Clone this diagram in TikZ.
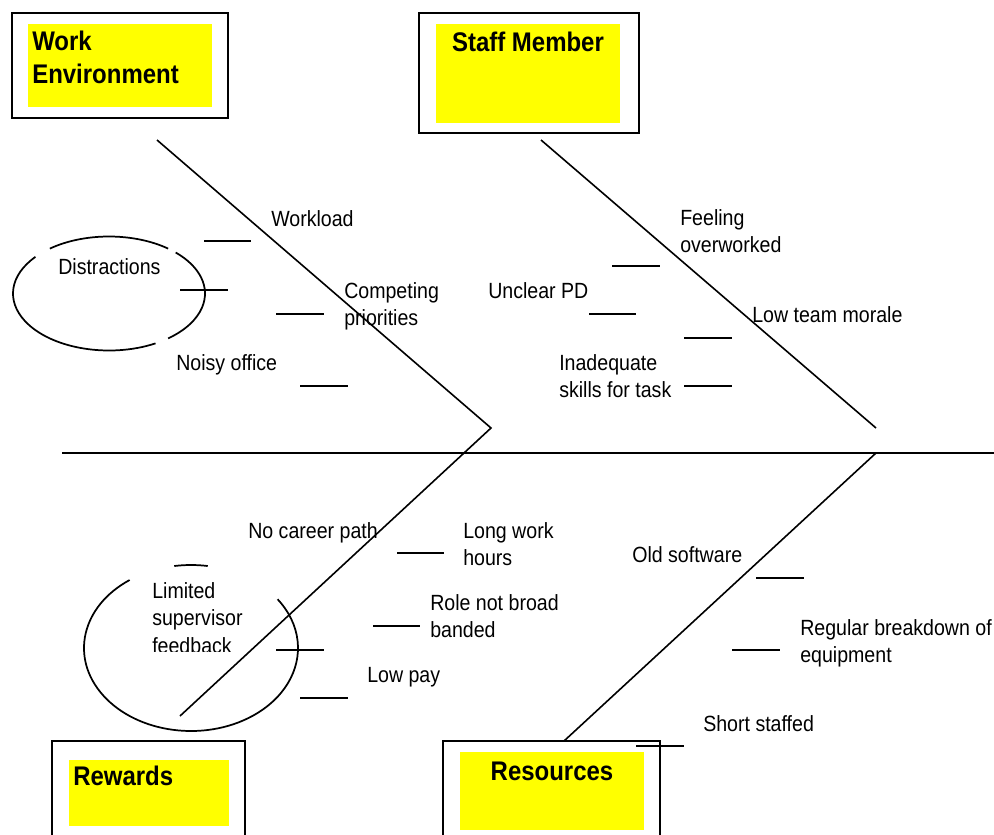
\documentclass[tikz,border=0pt]{standalone}
\usepackage{fontspec}
\setmainfont{Liberation Sans}[FakeStretch=0.89]
\definecolor{hiyellow}{RGB}{255,255,0}
\tikzset{
  lbl/.style={anchor=base west, inner sep=0pt, align=left, font=\fontsize{16.5}{20.6}\selectfont},
  head/.style={anchor=base west, inner sep=0pt, align=left, font=\fontsize{20.2}{25}\selectfont\bfseries},
  bone/.style={line width=1.2pt},
  tick/.style={line width=1.5pt},
  framebox/.style={line width=1.5pt},
  ring/.style={line width=1.3pt},
  fillbox/.style={fill=hiyellow, draw=none}
}
\begin{document}
\begin{tikzpicture}[x=0.75pt, y=-0.75pt]
\useasboundingbox (0,0) rectangle (994,834);
\clip (0,0) rectangle (994,834);
% boxes
\draw[framebox] (12,13) rectangle (228,118);
\fill[fillbox] (28,24) rectangle (212,107);
\draw[framebox] (419,13) rectangle (639,133);
\fill[fillbox] (436,24) rectangle (620,123);
\draw[framebox] (52,741) rectangle (245,860);
\fill[fillbox] (69,760) rectangle (229,826);
\draw[framebox] (443,741) rectangle (660,860);
\fill[fillbox] (460,752) rectangle (644,830);
% headings
\node[head] (hwork) at (32,84) {Work\\Environment};
\node[head, anchor=base] (hstaff) at (528,51.7) {Staff Member};
\node[head] (hrew) at (73,785.7) {Rewards};
\node[head, anchor=base] (hres) at (552,780) {Resources};
% spine and bones
\coordinate (spL) at (62,453);
\coordinate (spR) at (994,453);
\coordinate (weTop) at (157,140);
\coordinate (joint) at (491,428);
\coordinate (rwEnd) at (180,716);
\coordinate (smTop) at (541,140);
\coordinate (smEnd) at (876,428);
\coordinate (rsTop) at (876,453);
\coordinate (rsEnd) at (564,741);
\draw[bone] (spL) -- (spR);
\draw[bone] (weTop) -- (joint) -- (rwEnd);
\draw[bone] (smTop) -- (smEnd);
\draw[bone] (rsTop) -- (rsEnd);
% ticks
\draw[tick] (204,241) -- (251,241);
\draw[tick] (180,290) -- (228,290);
\draw[tick] (276,314) -- (324,314);
\draw[tick] (300,386) -- (348,386);
\draw[tick] (612,266) -- (660,266);
\draw[tick] (589,314) -- (636,314);
\draw[tick] (684,338) -- (732,338);
\draw[tick] (684,386) -- (732,386);
\draw[tick] (397,553) -- (444,553);
\draw[tick] (373,626) -- (420,626);
\draw[tick] (276,650) -- (324,650);
\draw[tick] (300,698) -- (348,698);
\draw[tick] (756,578) -- (804,578);
\draw[tick] (732,650) -- (780,650);
\draw[tick] (636,746) -- (684,746);
% ellipses (broken outlines)
\draw[ring] ({109+96*cos(-128)},{293.5+57*sin(-128)}) arc[start angle=-128, end angle=-52, x radius=96, y radius=57];
\draw[ring] ({109+96*cos(-46)},{293.5+57*sin(-46)}) arc[start angle=-46, end angle=52, x radius=96, y radius=57];
\draw[ring] ({109+96*cos(61)},{293.5+57*sin(61)}) arc[start angle=61, end angle=220, x radius=96, y radius=57];
\draw[ring] ({191+107*cos(-125)},{648+83*sin(-125)}) arc[start angle=-125, end angle=-396, x radius=107, y radius=83];
\draw[ring] ({191+107*cos(-99)},{648+83*sin(-99)}) arc[start angle=-99, end angle=-81, x radius=107, y radius=83];
% labels: work environment
\node[lbl] (workload) at (271,226) {Workload};
\node[lbl] (distr) at (58,274) {Distractions};
\node[lbl] (compet) at (344,325.5) {Competing\\priorities};
\node[lbl] (noisy) at (176,370.5) {Noisy office};
% staff member
\node[lbl] (feel) at (680,252.5) {Feeling\\overworked};
\node[lbl] (unclear) at (488,298) {Unclear PD};
\node[lbl] (morale) at (752,322.3) {Low team morale};
\node[lbl] (inadeq) at (559,397.5) {Inadequate\\skills for task};
% rewards
\node[lbl] (career) at (248,538) {No career path};
\node[lbl] (hours) at (463,565.5) {Long work\\hours};
\node[lbl] (role) at (430,637.5) {Role not broad\\banded};
\begin{scope}
\clip (100,570) rectangle (300,651.5);
\node[lbl] (limited) at (152,653.3) {Limited\\supervisor\\feedback};
\end{scope}
\node[lbl] (lowpay) at (367,682.7) {Low pay};
% resources
\node[lbl] (oldsw) at (632,562.7) {Old software};
\node[lbl] (breakdown) at (800,662.5) {Regular breakdown of\\equipment};
\node[lbl] (short) at (703,731.7) {Short staffed};
\end{tikzpicture}
\end{document}
